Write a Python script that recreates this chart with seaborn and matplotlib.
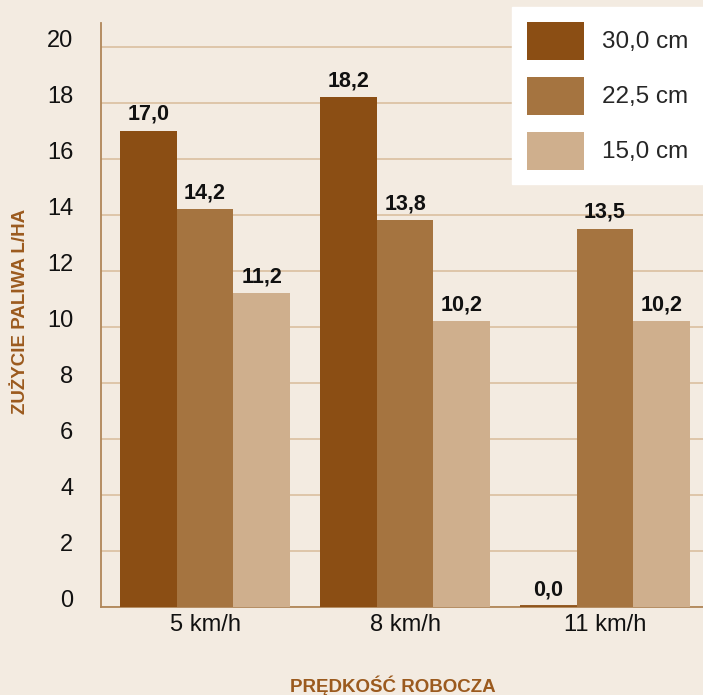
import matplotlib
matplotlib.use("Agg")
import matplotlib.pyplot as plt
from matplotlib import font_manager
from matplotlib.patches import Patch
import seaborn as sns
import pandas as pd

speeds = ["5 km/h", "8 km/h", "11 km/h"]
depths = ["30,0 cm", "22,5 cm", "15,0 cm"]
fuel_30 = [17.0, 18.2, 0.0]
fuel_225 = [14.2, 13.8, 13.5]
fuel_15 = [11.2, 10.2, 10.2]

colors = ["#8B4E14", "#A57440", "#CFAF8D"]
bg = "#F3EBE1"
brown_text = "#9B5A1E"

df = pd.DataFrame({
    "speed": speeds * 3,
    "depth": [depths[0]] * 3 + [depths[1]] * 3 + [depths[2]] * 3,
    "value": fuel_30 + fuel_225 + fuel_15,
})

sns.set_theme(style="white")
plt.rcParams["font.family"] = ["Liberation Sans", "DejaVu Sans"]

# Condensed bold face for value labels and axis titles, if present
installed = {f.name for f in font_manager.fontManager.ttflist}
if "Liberation Sans Narrow" in installed:
    narrow = ["Liberation Sans Narrow", "DejaVu Sans"]
    val_size, title_size = 17, 16
else:
    narrow = ["Liberation Sans", "DejaVu Sans"]
    val_size, title_size = 15.5, 13.5

fig = plt.figure(figsize=(7.03, 6.95), dpi=100, facecolor=bg)
ax = fig.add_axes([101 / 703, 1 - 607 / 695, 602 / 703, 584 / 695])
ax.set_facecolor(bg)

sns.barplot(data=df, x="speed", y="value", hue="depth", order=speeds,
            hue_order=depths, palette=colors, width=0.85, saturation=1,
            linewidth=0, legend=False, ax=ax, zorder=3)

ax.set_ylim(0, 20.85)
ax.set_xlim(-0.52, 2.49)
ax.set_yticks(range(0, 21, 2))
ax.yaxis.grid(True, color="#DCC3A5", linewidth=1.3, zorder=0)
ax.set_axisbelow(True)
ax.tick_params(axis="y", length=0, pad=20, labelsize=17, labelcolor="#111111")
ax.tick_params(axis="x", length=0, pad=5, labelsize=17, labelcolor="#111111")
for lbl in ax.get_yticklabels():
    lbl.set_verticalalignment("baseline")

for s in ["top", "right"]:
    ax.spines[s].set_visible(False)
for s in ["left", "bottom"]:
    ax.spines[s].set_color("#B08658")
    ax.spines[s].set_linewidth(1.3)

for cont in ax.containers:
    for bar in cont:
        h = bar.get_height()
        x = bar.get_x() + bar.get_width() / 2
        if h == 0:
            ax.plot([bar.get_x(), bar.get_x() + bar.get_width()], [0.05, 0.05],
                    color=bar.get_facecolor(), linewidth=1.3, zorder=4,
                    solid_capstyle="butt")
        ax.annotate(f"{h:.1f}".replace(".", ","), xy=(x, h), xytext=(0, 8),
                    textcoords="offset points", ha="center", va="baseline",
                    fontsize=val_size, fontweight="bold", family=narrow,
                    color="#111111", zorder=5)

ax.set_xlabel("")
ax.set_ylabel("")
fig.text(21 / 703, 1 - 311 / 695, "ZUŻYCIE PALIWA L/HA", rotation=90,
         ha="center", va="center", family=narrow, fontweight="bold",
         fontsize=title_size, color=brown_text)
fig.text(392.5 / 703, 1 - 692 / 695, "PRĘDKOŚĆ ROBOCZA", ha="center",
         va="baseline", family=narrow, fontweight="bold",
         fontsize=title_size, color=brown_text)

handles = [Patch(facecolor=c, edgecolor="none") for c in colors]
leg = fig.legend(handles, depths, loc="upper right",
                 bbox_to_anchor=(1.0, 1 - 7 / 695),
                 frameon=True, fancybox=False, facecolor="white",
                 edgecolor="white", framealpha=1,
                 handlelength=2.35, handleheight=2.03, labelspacing=0.7,
                 borderpad=0.6, handletextpad=0.74, borderaxespad=0,
                 prop={"family": ["Liberation Sans"], "size": 17.5})
leg.set_zorder(10)

fig.savefig("out.png", dpi=100, facecolor=bg)
